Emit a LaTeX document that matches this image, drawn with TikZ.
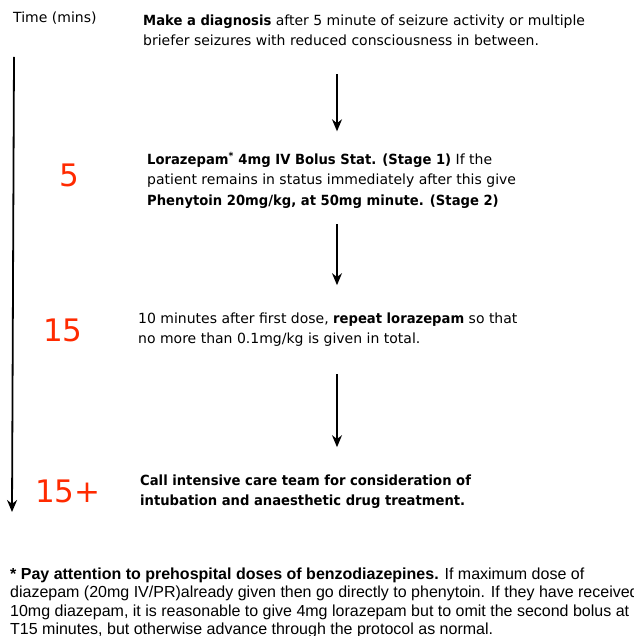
\documentclass[tikz,border=0pt]{standalone}
\usepackage{fontspec}
\setmainfont{DejaVu Sans}[BoldFeatures={FakeStretch=0.94}]
\newfontfamily\notefont{Liberation Sans}
\usetikzlibrary{arrows.meta}
\definecolor{minred}{HTML}{FF2A00}
\begin{document}
\begin{tikzpicture}[
x=1pt,y=-1pt,
every node/.style={inner sep=0pt,anchor=base west},
protocol/.style={align=left,font=\fontsize{14}{20}\selectfont},
minute/.style={text=minred,font=\fontsize{31}{31}\selectfont},
footnote/.style={align=left,font=\notefont\fontsize{16}{18.5}\selectfont},
flow/.style={-{Stealth[length=12pt,width=10pt]},line width=1.4pt},
timeline/.style={-{Stealth[length=12pt,width=10pt]},line width=1.8pt}
]
\useasboundingbox (0,0) rectangle (633,636);
\clip (0,0) rectangle (633,636);
\node[font=\fontsize{14}{16}\selectfont] (time) at (13,23) {Time (mins)};
\coordinate (t0) at (14,57);
\coordinate (t1) at (12,512);
\draw[timeline] (t0) -- (t1);
% steps of the protocol (base = last line)
\node[protocol] (diag) at (143,46)
{\textbf{Make a diagnosis} after 5 minute of seizure activity or multiple\\
briefer seizures with reduced consciousness in between.};
\node[protocol] (lora) at (147,205)
{\textbf{Lorazepam\textsuperscript{*} 4mg IV Bolus Stat. (Stage 1)} If the\\
patient remains in status immediately after this give\\
\textbf{Phenytoin 20mg/kg, at 50mg minute. (Stage 2)}};
\node[protocol] (repeat) at (138,343)
{10 minutes after first dose, \textbf{repeat lorazepam} so that\\
no more than 0.1mg/kg is given in total.};
\node[protocol,font=\bfseries\fontsize{14}{20}\selectfont] (icu) at (140,505)
{Call intensive care team for consideration of\\
intubation and anaesthetic drug treatment.};
% minutes
\node[minute] (m5) at (59,186) {5};
\node[minute] (m15) at (43,341) {15};
\node[minute] (m15p) at (35,502) {15+};
% arrows
\coordinate (ax) at (337,0);
\draw[flow,shorten <=28pt,shorten >=21pt] (diag.south -| ax) -- (lora.north -| ax);
\draw[flow,shorten <=16pt,shorten >=27pt] (lora.south -| ax) -- (repeat.north -| ax);
\draw[flow,shorten <=28pt,shorten >=27pt] (repeat.south -| ax) -- (icu.north -| ax);
% note
\node[footnote] (note) at (10,634.5)
{\textbf{* Pay attention to prehospital doses of benzodiazepines.} If maximum dose of\\
diazepam (20mg IV/PR)already given then go directly to phenytoin. If they have received\\
10mg diazepam, it is reasonable to give 4mg lorazepam but to omit the second bolus at\\
T15 minutes, but otherwise advance through the protocol as normal.};
\end{tikzpicture}
\end{document}
